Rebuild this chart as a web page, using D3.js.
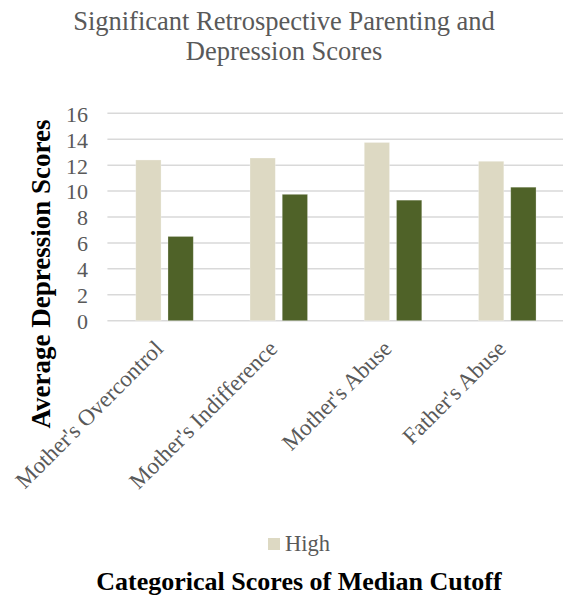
<!DOCTYPE html>
<html>
<head>
<meta charset="utf-8">
<script src="https://cdn.jsdelivr.net/npm/d3@7"></script>
<style>
  html, body { margin: 0; padding: 0; background: #fff; }
  svg { display: block; }
  text { font-family: "Liberation Serif", "Times New Roman", serif; }
</style>
</head>
<body>
<svg id="chart" width="563" height="598"></svg>
<script>
const categories = ["Mother's Overcontrol", "Mother's Indifference", "Mother's Abuse", "Father's Abuse"];
const seriesNames = ["High", "Low"];
const highValues = [12.4, 12.55, 13.75, 12.3];
const lowValues = [6.5, 9.75, 9.3, 10.3];
const yTicks = [0, 2, 4, 6, 8, 10, 12, 14, 16];
const legendItems = ["High"];
const titleLines = ["Significant Retrospective Parenting and", "Depression Scores"];
const yTitle = "Average Depression Scores";
const xTitle = "Categorical Scores of Median Cutoff";

const colors = { High: "#DDD9C3", Low: "#4F6228" };
const textGray = "#595959";

const svg = d3.select("#chart");

const x0 = d3.scaleBand().domain(categories).range([107.4, 564.4]).paddingInner(0).paddingOuter(0);
const x1 = d3.scaleBand().domain(seriesNames).range([0, x0.bandwidth()]).paddingInner(0.215).paddingOuter(0.88);
const y = d3.scaleLinear().domain([0, 16]).range([320.7, 113.3]);

// gridlines
svg.append("g")
  .selectAll("line")
  .data(yTicks)
  .join("line")
  .attr("x1", 107.4)
  .attr("x2", 563)
  .attr("y1", d => y(d))
  .attr("y2", d => y(d))
  .attr("stroke", "#D9D9D9")
  .attr("stroke-width", 1.5);

// y axis labels
const yAxis = d3.axisLeft(y).tickValues(yTicks).tickSize(0).tickPadding(0);
const yg = svg.append("g").attr("transform", "translate(88,0)").call(yAxis);
yg.select(".domain").remove();
yg.selectAll("text")
  .attr("fill", textGray)
  .style("font-size", "22px")
  .attr("dy", "0.36em");

// bars
const rows = categories.map((c, i) => ({ cat: c, High: highValues[i], Low: lowValues[i] }));
const groups = svg.append("g").selectAll("g")
  .data(rows)
  .join("g")
  .attr("transform", d => `translate(${x0(d.cat)},0)`);
groups.selectAll("rect")
  .data(d => seriesNames.map(s => ({ key: s, value: d[s] })))
  .join("rect")
  .attr("x", d => x1(d.key))
  .attr("width", x1.bandwidth())
  .attr("y", d => y(d.value))
  .attr("height", d => y(0) - y(d.value))
  .attr("fill", d => colors[d.key])
  .attr("stroke", "#ffffff")
  .attr("stroke-opacity", 0.35)
  .attr("stroke-width", 0.75);

// category labels
const xAxis = d3.axisBottom(x0).tickSize(0).tickPadding(0);
const xg = svg.append("g").attr("transform", "translate(0,350)").call(xAxis);
xg.select(".domain").remove();
xg.selectAll("text")
  .attr("fill", textGray)
  .style("font-size", "23px")
  .attr("text-anchor", "end")
  .attr("y", 0)
  .attr("dy", 0)
  .attr("transform", "rotate(-45)");

// title
svg.append("text")
  .attr("x", 284)
  .attr("y", 30)
  .attr("text-anchor", "middle")
  .attr("fill", textGray)
  .style("font-size", "26.5px")
  .selectAll("tspan")
  .data(titleLines)
  .join("tspan")
  .attr("x", 284)
  .attr("dy", (d, i) => i === 0 ? 0 : 30)
  .text(d => d);

// y title
svg.append("text")
  .attr("transform", "translate(50,274) rotate(-90)")
  .attr("text-anchor", "middle")
  .attr("fill", "#000")
  .style("font-size", "27px")
  .style("font-weight", "bold")
  .text(yTitle);

// legend
const lg = svg.append("g").attr("transform", "translate(268,538)");
lg.selectAll("rect").data(legendItems).join("rect")
  .attr("width", 12).attr("height", 12)
  .attr("fill", d => colors[d]);
lg.selectAll("text").data(legendItems).join("text")
  .attr("x", 17).attr("y", 13)
  .attr("fill", textGray)
  .style("font-size", "22.5px")
  .text(d => d);

// x title
svg.append("text")
  .attr("x", 299)
  .attr("y", 590)
  .attr("text-anchor", "middle")
  .attr("fill", "#000")
  .style("font-size", "26px")
  .style("font-weight", "bold")
  .text(xTitle);
</script>
</body>
</html>
